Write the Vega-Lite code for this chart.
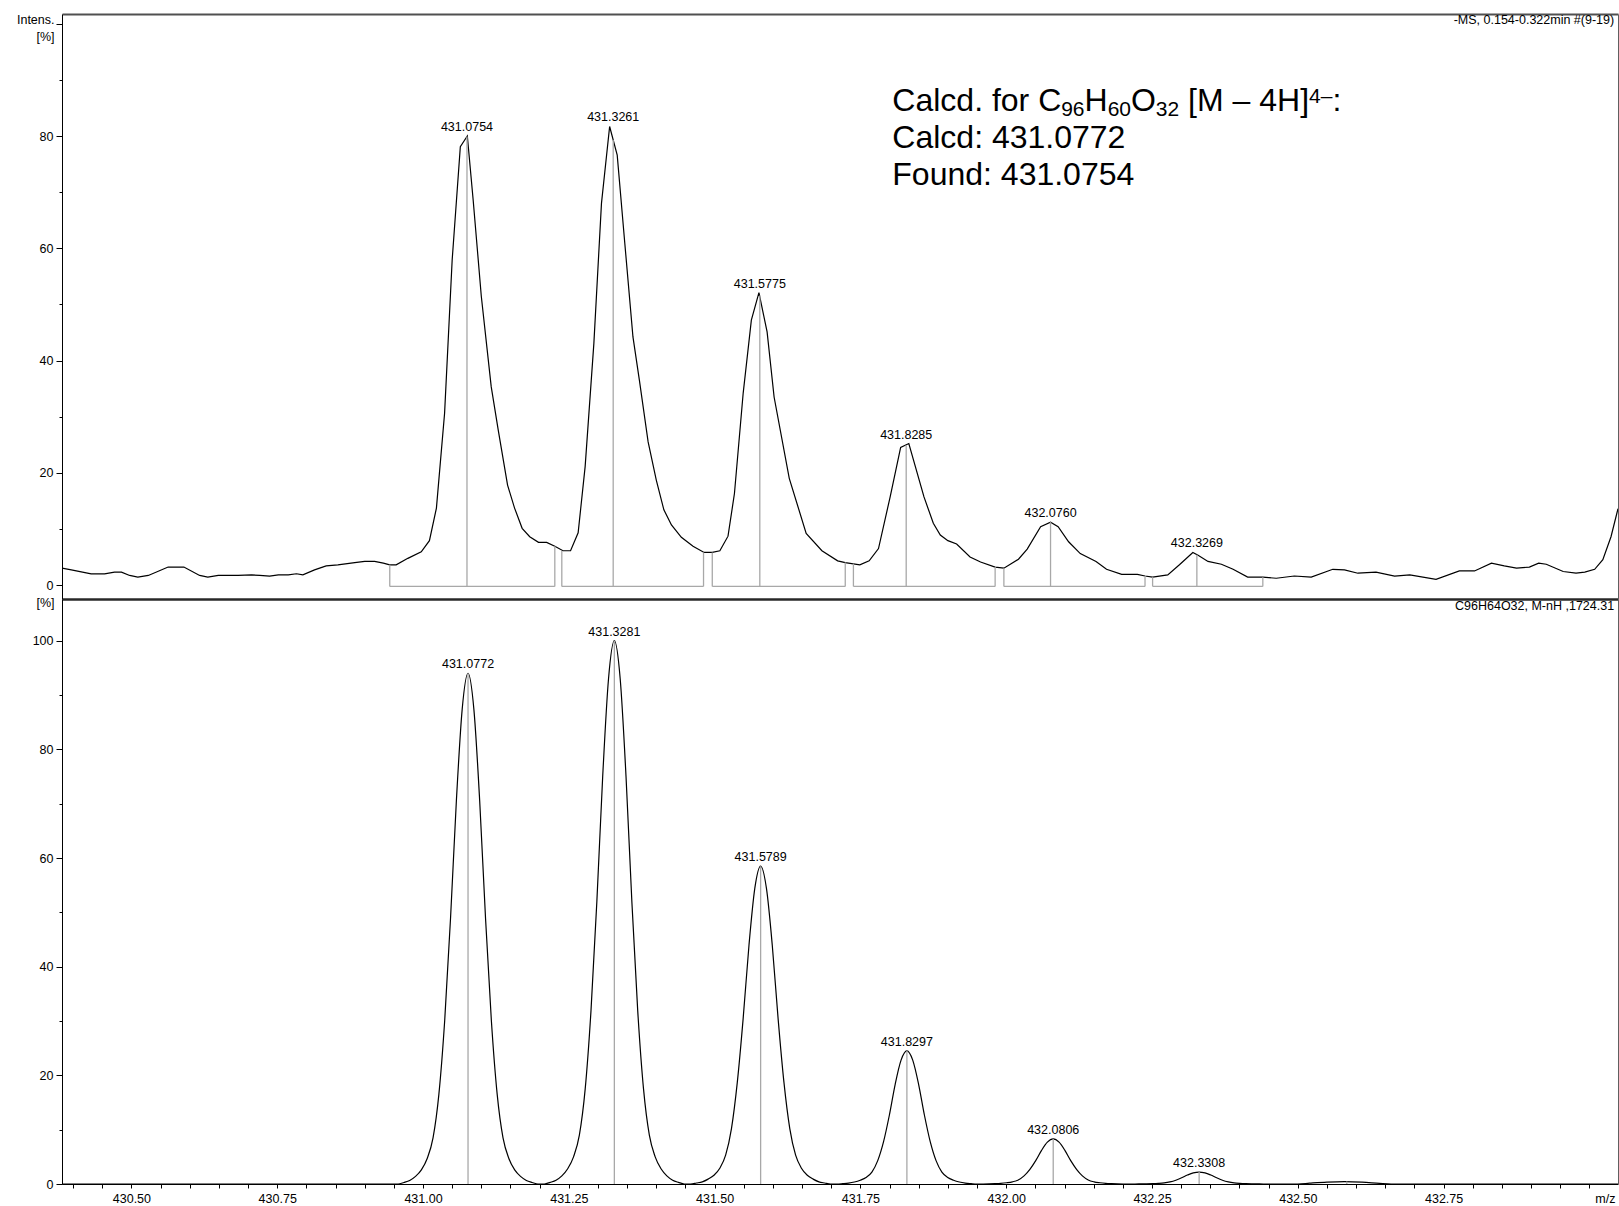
{
  "$schema": "https://vega.github.io/schema/vega-lite/v6.json",
  "padding": {"left": 16, "top": 13, "right": 1, "bottom": 1},
  "autosize": {"type": "pad"},
  "background": "white",
  "spacing": 0,
  "bounds": "flush",
  "config": {
    "font": "Liberation Sans",
    "view": {"stroke": null},
    "axis": {
      "grid": false,
      "labelFont": "Liberation Sans",
      "labelFontSize": 12.5,
      "labelColor": "#000",
      "tickColor": "#000",
      "domainColor": "#000",
      "titleFont": "Liberation Sans",
      "titleFontSize": 12.5,
      "titleFontWeight": "normal",
      "titleColor": "#000",
      "labelOverlap": false,
      "labelFlush": false
    }
  },
  "datasets": {
    "trace": [
      {"mz": 430.381, "i": 3.0}, {"mz": 430.397, "i": 2.7}, {"mz": 430.431, "i": 2.0}, {"mz": 430.454, "i": 2.0},
      {"mz": 430.471, "i": 2.3}, {"mz": 430.483, "i": 2.3}, {"mz": 430.497, "i": 1.7}, {"mz": 430.511, "i": 1.4},
      {"mz": 430.529, "i": 1.7}, {"mz": 430.563, "i": 3.2}, {"mz": 430.590, "i": 3.2}, {"mz": 430.617, "i": 1.7},
      {"mz": 430.631, "i": 1.4}, {"mz": 430.649, "i": 1.7}, {"mz": 430.683, "i": 1.7}, {"mz": 430.706, "i": 1.8},
      {"mz": 430.720, "i": 1.7}, {"mz": 430.737, "i": 1.6}, {"mz": 430.752, "i": 1.8}, {"mz": 430.769, "i": 1.8},
      {"mz": 430.783, "i": 2.0}, {"mz": 430.794, "i": 1.8}, {"mz": 430.814, "i": 2.7}, {"mz": 430.834, "i": 3.4},
      {"mz": 430.854, "i": 3.6}, {"mz": 430.883, "i": 4.0}, {"mz": 430.900, "i": 4.2}, {"mz": 430.917, "i": 4.2},
      {"mz": 430.932, "i": 3.9}, {"mz": 430.943, "i": 3.6}, {"mz": 430.954, "i": 3.6}, {"mz": 430.974, "i": 4.75},
      {"mz": 430.997, "i": 5.9}, {"mz": 431.011, "i": 7.9}, {"mz": 431.023, "i": 13.7}, {"mz": 431.037, "i": 30.6},
      {"mz": 431.050, "i": 57.9}, {"mz": 431.064, "i": 78.1}, {"mz": 431.076, "i": 80.0}, {"mz": 431.086, "i": 68.6},
      {"mz": 431.100, "i": 51.4}, {"mz": 431.117, "i": 35.3}, {"mz": 431.129, "i": 27.6}, {"mz": 431.145, "i": 17.8},
      {"mz": 431.157, "i": 13.7}, {"mz": 431.170, "i": 10.1}, {"mz": 431.183, "i": 8.6}, {"mz": 431.198, "i": 7.6},
      {"mz": 431.212, "i": 7.6}, {"mz": 431.226, "i": 6.9}, {"mz": 431.240, "i": 6.1}, {"mz": 431.253, "i": 6.1},
      {"mz": 431.266, "i": 9.3}, {"mz": 431.278, "i": 21.1}, {"mz": 431.293, "i": 43.1}, {"mz": 431.306, "i": 68.0},
      {"mz": 431.320, "i": 81.7}, {"mz": 431.333, "i": 76.6}, {"mz": 431.346, "i": 60.9}, {"mz": 431.360, "i": 44.2},
      {"mz": 431.371, "i": 36.5}, {"mz": 431.386, "i": 25.5}, {"mz": 431.400, "i": 18.7}, {"mz": 431.413, "i": 13.4},
      {"mz": 431.426, "i": 10.7}, {"mz": 431.443, "i": 8.5}, {"mz": 431.463, "i": 6.9}, {"mz": 431.482, "i": 5.8},
      {"mz": 431.496, "i": 5.8}, {"mz": 431.509, "i": 6.1}, {"mz": 431.523, "i": 8.7}, {"mz": 431.534, "i": 16.3},
      {"mz": 431.549, "i": 34.2}, {"mz": 431.563, "i": 47.2}, {"mz": 431.576, "i": 52.1}, {"mz": 431.590, "i": 45.1},
      {"mz": 431.602, "i": 33.5}, {"mz": 431.628, "i": 19.0}, {"mz": 431.657, "i": 9.2}, {"mz": 431.684, "i": 6.1},
      {"mz": 431.711, "i": 4.3}, {"mz": 431.724, "i": 4.0}, {"mz": 431.749, "i": 3.6}, {"mz": 431.765, "i": 4.3},
      {"mz": 431.781, "i": 6.5}, {"mz": 431.801, "i": 15.7}, {"mz": 431.819, "i": 24.5}, {"mz": 431.833, "i": 25.2},
      {"mz": 431.859, "i": 15.7}, {"mz": 431.875, "i": 11.0}, {"mz": 431.887, "i": 8.9}, {"mz": 431.900, "i": 7.9},
      {"mz": 431.915, "i": 7.3}, {"mz": 431.938, "i": 5.0}, {"mz": 431.956, "i": 4.1}, {"mz": 431.981, "i": 3.2},
      {"mz": 431.996, "i": 3.0}, {"mz": 432.021, "i": 4.6}, {"mz": 432.036, "i": 6.4}, {"mz": 432.059, "i": 10.4},
      {"mz": 432.076, "i": 11.2}, {"mz": 432.089, "i": 10.4}, {"mz": 432.107, "i": 7.7}, {"mz": 432.127, "i": 5.6},
      {"mz": 432.154, "i": 4.2}, {"mz": 432.172, "i": 2.8}, {"mz": 432.198, "i": 1.9}, {"mz": 432.225, "i": 1.9},
      {"mz": 432.238, "i": 1.6}, {"mz": 432.251, "i": 1.4}, {"mz": 432.277, "i": 1.8}, {"mz": 432.297, "i": 3.6},
      {"mz": 432.320, "i": 5.8}, {"mz": 432.329, "i": 5.3}, {"mz": 432.346, "i": 4.2}, {"mz": 432.369, "i": 3.7},
      {"mz": 432.389, "i": 2.8}, {"mz": 432.414, "i": 1.4}, {"mz": 432.440, "i": 1.4}, {"mz": 432.463, "i": 1.2},
      {"mz": 432.494, "i": 1.6}, {"mz": 432.523, "i": 1.4}, {"mz": 432.560, "i": 2.8}, {"mz": 432.580, "i": 2.7},
      {"mz": 432.603, "i": 2.1}, {"mz": 432.634, "i": 2.3}, {"mz": 432.666, "i": 1.6}, {"mz": 432.692, "i": 1.8},
      {"mz": 432.737, "i": 1.0}, {"mz": 432.777, "i": 2.5}, {"mz": 432.803, "i": 2.5}, {"mz": 432.832, "i": 3.9},
      {"mz": 432.854, "i": 3.4}, {"mz": 432.875, "i": 3.0}, {"mz": 432.897, "i": 3.2}, {"mz": 432.913, "i": 3.9},
      {"mz": 432.926, "i": 3.7}, {"mz": 432.955, "i": 2.4}, {"mz": 432.977, "i": 2.1}, {"mz": 432.992, "i": 2.3},
      {"mz": 433.009, "i": 2.8}, {"mz": 433.023, "i": 4.5}, {"mz": 433.037, "i": 8.6}, {"mz": 433.049, "i": 13.6}
    ],
    "brackets": [
      {"s": 430.943, "e": 431.226, "hs": 3.6, "he": 6.9, "b": -0.25},
      {"s": 431.238, "e": 431.481, "hs": 6.1, "he": 5.8, "b": -0.25},
      {"s": 431.496, "e": 431.724, "hs": 5.8, "he": 4.0, "b": -0.25},
      {"s": 431.738, "e": 431.981, "hs": 3.8, "he": 3.2, "b": -0.25},
      {"s": 431.996, "e": 432.238, "hs": 3.0, "he": 1.6, "b": -0.25},
      {"s": 432.251, "e": 432.440, "hs": 1.4, "he": 1.4, "b": -0.25}
    ],
    "topPeaks": [
      {"mz": 431.0754, "b": -0.25, "h": 79.9, "apex": 80.0, "label": "431.0754"},
      {"mz": 431.3261, "b": -0.25, "h": 79.3, "apex": 81.7, "label": "431.3261"},
      {"mz": 431.5775, "b": -0.25, "h": 51.6, "apex": 52.1, "label": "431.5775"},
      {"mz": 431.8285, "b": -0.25, "h": 24.9, "apex": 25.2, "label": "431.8285"},
      {"mz": 432.0760, "b": -0.25, "h": 11.2, "apex": 11.2, "label": "432.0760"},
      {"mz": 432.3269, "b": -0.25, "h": 5.4, "apex": 5.8, "label": "432.3269"}
    ],
    "annot": [
      {"mz": 431.8047, "y": 84.37, "t": "Calcd. for C", "k": "main"},
      {"mz": 432.0942, "y": 83.48, "t": "96", "k": "sub"},
      {"mz": 432.1343, "y": 84.37, "t": "H", "k": "main"},
      {"mz": 432.1740, "y": 83.48, "t": "60", "k": "sub"},
      {"mz": 432.2139, "y": 84.37, "t": "O", "k": "main"},
      {"mz": 432.2566, "y": 83.48, "t": "32", "k": "sub"},
      {"mz": 432.3119, "y": 84.37, "t": "[M – 4H]", "k": "main"},
      {"mz": 432.5192, "y": 85.97, "t": "4–", "k": "sup"},
      {"mz": 432.5593, "y": 84.37, "t": ":", "k": "main"},
      {"mz": 431.8047, "y": 77.93, "t": "Calcd: 431.0772", "k": "main"},
      {"mz": 431.8047, "y": 71.31, "t": "Found: 431.0754", "k": "main"}
    ],
    "sim": [
      {"mz": 430.381, "i": 0},
      {"mz": 430.9572, "i": 0}, {"mz": 430.9672, "i": 0.28}, {"mz": 430.9772, "i": 0.66}, {"mz": 430.9872, "i": 1.4},
      {"mz": 430.9972, "i": 2.6}, {"mz": 431.0072, "i": 4.7}, {"mz": 431.0172, "i": 8.5}, {"mz": 431.0272, "i": 16.5},
      {"mz": 431.0372, "i": 30.1}, {"mz": 431.0472, "i": 48.9}, {"mz": 431.0572, "i": 70.5}, {"mz": 431.0672, "i": 87.4},
      {"mz": 431.0772, "i": 94}, {"mz": 431.0872, "i": 87.4}, {"mz": 431.0972, "i": 70.5}, {"mz": 431.1072, "i": 48.9},
      {"mz": 431.1172, "i": 30.1}, {"mz": 431.1272, "i": 16.5}, {"mz": 431.1372, "i": 8.5}, {"mz": 431.1472, "i": 4.7},
      {"mz": 431.1572, "i": 2.6}, {"mz": 431.1672, "i": 1.4}, {"mz": 431.1772, "i": 0.66}, {"mz": 431.1872, "i": 0.28},
      {"mz": 431.1972, "i": 0},
      {"mz": 431.2081, "i": 0}, {"mz": 431.2181, "i": 0.3}, {"mz": 431.2281, "i": 0.7}, {"mz": 431.2381, "i": 1.5},
      {"mz": 431.2481, "i": 2.8}, {"mz": 431.2581, "i": 5}, {"mz": 431.2681, "i": 9}, {"mz": 431.2781, "i": 17.5},
      {"mz": 431.2881, "i": 32}, {"mz": 431.2981, "i": 52}, {"mz": 431.3081, "i": 75}, {"mz": 431.3181, "i": 93},
      {"mz": 431.3281, "i": 100}, {"mz": 431.3381, "i": 93}, {"mz": 431.3481, "i": 75}, {"mz": 431.3581, "i": 52},
      {"mz": 431.3681, "i": 32}, {"mz": 431.3781, "i": 17.5}, {"mz": 431.3881, "i": 9}, {"mz": 431.3981, "i": 5},
      {"mz": 431.4081, "i": 2.8}, {"mz": 431.4181, "i": 1.5}, {"mz": 431.4281, "i": 0.7}, {"mz": 431.4381, "i": 0.3},
      {"mz": 431.4481, "i": 0},
      {"mz": 431.4589, "i": 0}, {"mz": 431.4689, "i": 0.18}, {"mz": 431.4789, "i": 0.4}, {"mz": 431.4889, "i": 0.9},
      {"mz": 431.4989, "i": 1.6}, {"mz": 431.5089, "i": 2.9}, {"mz": 431.5189, "i": 5.3}, {"mz": 431.5289, "i": 10.2},
      {"mz": 431.5389, "i": 18.7}, {"mz": 431.5489, "i": 30.4}, {"mz": 431.5589, "i": 43.9}, {"mz": 431.5689, "i": 54.4},
      {"mz": 431.5789, "i": 58.5}, {"mz": 431.5889, "i": 54.4}, {"mz": 431.5989, "i": 43.9}, {"mz": 431.6089, "i": 30.4},
      {"mz": 431.6189, "i": 18.7}, {"mz": 431.6289, "i": 10.2}, {"mz": 431.6389, "i": 5.3}, {"mz": 431.6489, "i": 2.9},
      {"mz": 431.6589, "i": 1.6}, {"mz": 431.6689, "i": 0.9}, {"mz": 431.6789, "i": 0.4}, {"mz": 431.6889, "i": 0.18},
      {"mz": 431.6989, "i": 0},
      {"mz": 431.7097, "i": 0}, {"mz": 431.7197, "i": 0.07}, {"mz": 431.7297, "i": 0.17}, {"mz": 431.7397, "i": 0.37},
      {"mz": 431.7497, "i": 0.7}, {"mz": 431.7597, "i": 1.2}, {"mz": 431.7697, "i": 2.2}, {"mz": 431.7797, "i": 4.3},
      {"mz": 431.7897, "i": 7.8}, {"mz": 431.7997, "i": 12.7}, {"mz": 431.8097, "i": 18.4}, {"mz": 431.8197, "i": 22.8},
      {"mz": 431.8297, "i": 24.5}, {"mz": 431.8397, "i": 22.8}, {"mz": 431.8497, "i": 18.4}, {"mz": 431.8597, "i": 12.7},
      {"mz": 431.8697, "i": 7.8}, {"mz": 431.8797, "i": 4.3}, {"mz": 431.8897, "i": 2.2}, {"mz": 431.8997, "i": 1.2},
      {"mz": 431.9097, "i": 0.7}, {"mz": 431.9197, "i": 0.37}, {"mz": 431.9297, "i": 0.17}, {"mz": 431.9397, "i": 0.07},
      {"mz": 431.9497, "i": 0},
      {"mz": 431.9606, "i": 0}, {"mz": 431.9706, "i": 0.02}, {"mz": 431.9806, "i": 0.06}, {"mz": 431.9906, "i": 0.12},
      {"mz": 432.0006, "i": 0.23}, {"mz": 432.0106, "i": 0.4}, {"mz": 432.0206, "i": 0.75}, {"mz": 432.0306, "i": 1.5},
      {"mz": 432.0406, "i": 2.7}, {"mz": 432.0506, "i": 4.3}, {"mz": 432.0606, "i": 6.2}, {"mz": 432.0706, "i": 7.7},
      {"mz": 432.0806, "i": 8.3}, {"mz": 432.0906, "i": 7.7}, {"mz": 432.1006, "i": 6.2}, {"mz": 432.1106, "i": 4.3},
      {"mz": 432.1206, "i": 2.7}, {"mz": 432.1306, "i": 1.5}, {"mz": 432.1406, "i": 0.75}, {"mz": 432.1506, "i": 0.4},
      {"mz": 432.1606, "i": 0.23}, {"mz": 432.1706, "i": 0.12}, {"mz": 432.1806, "i": 0.06}, {"mz": 432.1906, "i": 0.02},
      {"mz": 432.2006, "i": 0},
      {"mz": 432.2208, "i": 0}, {"mz": 432.2308, "i": 0.015}, {"mz": 432.2408, "i": 0.03}, {"mz": 432.2508, "i": 0.06},
      {"mz": 432.2608, "i": 0.11}, {"mz": 432.2708, "i": 0.2}, {"mz": 432.2808, "i": 0.39}, {"mz": 432.2908, "i": 0.7},
      {"mz": 432.3008, "i": 1.14}, {"mz": 432.3108, "i": 1.65}, {"mz": 432.3208, "i": 2.05}, {"mz": 432.3308, "i": 2.2},
      {"mz": 432.3408, "i": 2.05}, {"mz": 432.3508, "i": 1.65}, {"mz": 432.3608, "i": 1.14}, {"mz": 432.3708, "i": 0.7},
      {"mz": 432.3808, "i": 0.39}, {"mz": 432.3908, "i": 0.2}, {"mz": 432.4008, "i": 0.11}, {"mz": 432.4108, "i": 0.06},
      {"mz": 432.4208, "i": 0.03}, {"mz": 432.4308, "i": 0.015}, {"mz": 432.4408, "i": 0},
      {"mz": 432.50, "i": 0}, {"mz": 432.52, "i": 0.15}, {"mz": 432.55, "i": 0.35}, {"mz": 432.58, "i": 0.45},
      {"mz": 432.61, "i": 0.35}, {"mz": 432.64, "i": 0.12}, {"mz": 432.66, "i": 0}, {"mz": 433.049, "i": 0}
    ],
    "simPeaks": [
      {"mz": 431.0772, "b": 0, "h": 94, "label": "431.0772"},
      {"mz": 431.3281, "b": 0, "h": 100, "label": "431.3281"},
      {"mz": 431.5789, "b": 0, "h": 58.5, "label": "431.5789"},
      {"mz": 431.8297, "b": 0, "h": 24.5, "label": "431.8297"},
      {"mz": 432.0806, "b": 0, "h": 8.3, "label": "432.0806"},
      {"mz": 432.3308, "b": 0, "h": 2.2, "label": "432.3308"},
      {"mz": 432.584, "b": 0, "h": 0.45, "label": ""}
    ]
  },
  "vconcat": [
    {
      "width": 1556,
      "height": 585,
      "resolve": {"axis": {"x": "independent", "y": "independent"}},
      "layer": [
        {
          "data": {"name": "trace"},
          "mark": {"type": "line", "color": "#000", "strokeWidth": 1.2, "clip": true},
          "encoding": {
            "x": {"field": "mz", "type": "quantitative",
              "scale": {"domain": [430.381, 433.049], "nice": false, "zero": false},
              "axis": {"orient": "top", "ticks": false, "labels": false, "title": null, "domainColor": "#505050", "domainWidth": 2}},
            "y": {"field": "i", "type": "quantitative",
              "scale": {"domain": [-2.494, 101.74], "nice": false, "zero": false},
              "axis": {"orient": "left", "values": [0, 20, 40, 60, 80, 100], "tickSize": 6, "labelPadding": 3,
                "labelExpr": "datum.value < 100 ? datum.label : ''",
                "title": ["Intens.", "[%]"], "titleAngle": 0, "titleAlign": "right", "titleBaseline": "alphabetic",
                "titleX": -8, "titleY": 9, "titleLineHeight": 17}}
          }
        },
        {
          "data": {"name": "topPeaks"},
          "mark": {"type": "rule", "color": "#a8a8a8", "strokeWidth": 1.3},
          "encoding": {
            "x": {"field": "mz", "type": "quantitative",
              "axis": {"orient": "bottom", "ticks": false, "labels": false, "title": null, "domainColor": "#282828", "domainWidth": 2.5}},
            "y": {"field": "b", "type": "quantitative",
              "axis": {"orient": "left", "values": [10, 30, 50, 70, 90], "tickSize": 3, "labels": false, "domain": false, "title": null}},
            "y2": {"field": "h"}
          }
        },
        {
          "data": {"name": "brackets"},
          "mark": {"type": "rule", "color": "#a8a8a8", "strokeWidth": 1.3},
          "encoding": {
            "x": {"field": "s", "type": "quantitative", "axis": null},
            "x2": {"field": "e"},
            "y": {"field": "b", "type": "quantitative",
              "axis": {"orient": "right", "ticks": false, "labels": false, "title": null, "domainColor": "#606060", "domainWidth": 1}}
          }
        },
        {
          "data": {"name": "brackets"},
          "mark": {"type": "rule", "color": "#a8a8a8", "strokeWidth": 1.3},
          "encoding": {
            "x": {"field": "s", "type": "quantitative", "axis": null},
            "y": {"field": "b", "type": "quantitative", "axis": null},
            "y2": {"field": "hs"}
          }
        },
        {
          "data": {"name": "brackets"},
          "mark": {"type": "rule", "color": "#a8a8a8", "strokeWidth": 1.3},
          "encoding": {
            "x": {"field": "e", "type": "quantitative", "axis": null},
            "y": {"field": "b", "type": "quantitative", "axis": null},
            "y2": {"field": "he"}
          }
        },
        {
          "data": {"name": "topPeaks"},
          "mark": {"type": "text", "fontSize": 12.5, "color": "#000", "align": "center", "baseline": "alphabetic", "dy": -5},
          "encoding": {
            "x": {"field": "mz", "type": "quantitative", "axis": null},
            "y": {"field": "apex", "type": "quantitative", "axis": null},
            "text": {"field": "label"}
          }
        },
        {
          "data": {"name": "annot"},
          "transform": [{"filter": "datum.k === 'main'"}],
          "mark": {"type": "text", "color": "#000", "align": "left", "baseline": "alphabetic", "fontSize": 32},
          "encoding": {
            "x": {"field": "mz", "type": "quantitative", "axis": null},
            "y": {"field": "y", "type": "quantitative", "axis": null},
            "text": {"field": "t"}
          }
        },
        {
          "data": {"name": "annot"},
          "transform": [{"filter": "datum.k !== 'main'"}],
          "mark": {"type": "text", "color": "#000", "align": "left", "baseline": "alphabetic", "fontSize": 21},
          "encoding": {
            "x": {"field": "mz", "type": "quantitative", "axis": null},
            "y": {"field": "y", "type": "quantitative", "axis": null},
            "text": {"field": "t"}
          }
        },
        {
          "data": {"values": [{"mz": 433.0424, "y": 100.0, "t": "-MS, 0.154-0.322min #(9-19)"}]},
          "mark": {"type": "text", "fontSize": 12.5, "color": "#000", "align": "right", "baseline": "alphabetic"},
          "encoding": {
            "x": {"field": "mz", "type": "quantitative", "axis": null},
            "y": {"field": "y", "type": "quantitative", "axis": null},
            "text": {"field": "t"}
          }
        }
      ]
    },
    {
      "width": 1556,
      "height": 585,
      "resolve": {"axis": {"x": "independent", "y": "independent"}},
      "layer": [
        {
          "data": {"name": "sim"},
          "mark": {"type": "line", "color": "#000", "strokeWidth": 1.2, "interpolate": "monotone"},
          "encoding": {
            "x": {"field": "mz", "type": "quantitative",
              "scale": {"domain": [430.381, 433.049], "nice": false, "zero": false},
              "axis": {"orient": "bottom",
                "values": [430.4, 430.45, 430.5, 430.55, 430.6, 430.65, 430.7, 430.75, 430.8, 430.85, 430.9, 430.95, 431, 431.05, 431.1, 431.15, 431.2, 431.25, 431.3, 431.35, 431.4, 431.45, 431.5, 431.55, 431.6, 431.65, 431.7, 431.75, 431.8, 431.85, 431.9, 431.95, 432, 432.05, 432.1, 432.15, 432.2, 432.25, 432.3, 432.35, 432.4, 432.45, 432.5, 432.55, 432.6, 432.65, 432.7, 432.75, 432.8, 432.85, 432.9, 432.95, 433],
                "tickSize": 4, "labelPadding": 4,
                "labelExpr": "round(datum.value * 100) % 25 === 0 && datum.value < 432.9 ? format(datum.value, '.2f') : ''",
                "title": "m/z", "titleAngle": 0, "titleAlign": "right", "titleBaseline": "alphabetic",
                "titleX": 1553, "titleY": 18}},
            "y": {"field": "i", "type": "quantitative",
              "scale": {"domain": [0, 107.67], "nice": false, "zero": false},
              "axis": {"orient": "left", "values": [0, 20, 40, 60, 80, 100], "tickSize": 6, "labelPadding": 3,
                "title": "[%]", "titleAngle": 0, "titleAlign": "right", "titleBaseline": "alphabetic",
                "titleX": -8, "titleY": 7}}
          }
        },
        {
          "data": {"name": "simPeaks"},
          "mark": {"type": "rule", "color": "#a8a8a8", "strokeWidth": 1.3},
          "encoding": {
            "x": {"field": "mz", "type": "quantitative", "axis": null},
            "y": {"field": "b", "type": "quantitative",
              "axis": {"orient": "left", "values": [10, 30, 50, 70, 90], "tickSize": 3, "labels": false, "domain": false, "title": null}},
            "y2": {"field": "h"}
          }
        },
        {
          "data": {"name": "simPeaks"},
          "mark": {"type": "text", "fontSize": 12.5, "color": "#000", "align": "center", "baseline": "alphabetic", "dy": -5},
          "encoding": {
            "x": {"field": "mz", "type": "quantitative", "axis": null},
            "y": {"field": "h", "type": "quantitative",
              "axis": {"orient": "right", "ticks": false, "labels": false, "title": null, "domainColor": "#606060", "domainWidth": 1}},
            "text": {"field": "label"}
          }
        },
        {
          "data": {"values": [{"mz": 433.0424, "y": 105.65, "t": "C96H64O32, M-nH ,1724.31"}]},
          "mark": {"type": "text", "fontSize": 12.5, "color": "#000", "align": "right", "baseline": "alphabetic"},
          "encoding": {
            "x": {"field": "mz", "type": "quantitative", "axis": null},
            "y": {"field": "y", "type": "quantitative", "axis": null},
            "text": {"field": "t"}
          }
        }
      ]
    }
  ]
}
